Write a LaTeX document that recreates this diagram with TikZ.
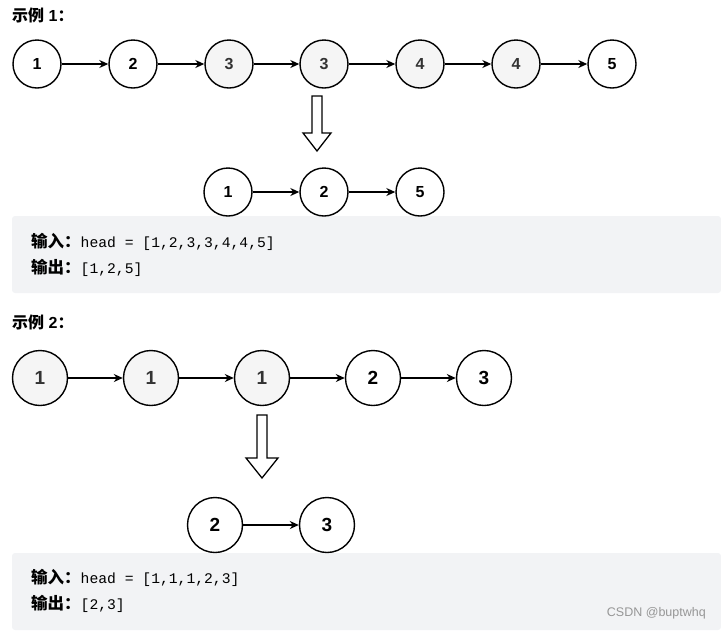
\documentclass[tikz,border=0pt]{standalone}
\usepackage{fontspec}
\setmainfont{Liberation Sans}
\setmonofont{Liberation Mono}
\newfontfamily\cjk{Noto Sans CJK SC}
\usetikzlibrary{arrows.meta}
\definecolor{boxgray}{RGB}{242,243,245}
\definecolor{nodegray}{RGB}{245,245,245}
\definecolor{textgray}{RGB}{51,51,51}
\definecolor{wmgray}{RGB}{150,150,150}
\tikzset{
  lnode/.style={circle,draw=black,line width=1.4pt,fill=white,minimum size=48pt,inner sep=0pt,
    font=\fontsize{16}{16}\selectfont\bfseries},
  lnodebig/.style={lnode,minimum size=55pt,font=\fontsize{19}{19}\selectfont\bfseries},
  dup/.style={fill=nodegray,text=textgray},
  link/.style={-{Stealth[length=9pt,width=8pt]},line width=1.3pt},
  hollow/.style={draw=black,line width=1.3pt,fill=white,line join=miter},
  codebox/.style={fill=boxgray,rounded corners=3pt},
  codeline/.style={anchor=west,inner sep=0pt,font=\fontsize{14.7}{15}\selectfont},
  header/.style={anchor=west,inner sep=0pt,font=\fontsize{16}{16}\selectfont\bfseries},
}
\newcommand{\cn}[1]{{\cjk\bfseries #1}}
\newcommand{\cnc}[1]{{\fontsize{16.5}{16.5}\selectfont\cjk\bfseries #1}}
\begin{document}
\begin{tikzpicture}[x=1pt,y=-1pt]
\useasboundingbox (0,0) rectangle (721,630);
% headers
\node[header] (h1) at (12,15) {\cn{示例} 1\cn{：}};
\node[header] (h2) at (12,322) {\cn{示例} 2\cn{：}};
% code boxes
\fill[codebox] (12,216) rectangle (721,293);
\fill[codebox] (12,553) rectangle (721,630);
\node[codeline] (t1) at (31,242) {\cnc{输入：}\texttt{head = [1,2,3,3,4,4,5]}};
\node[codeline] (t2) at (31,268) {\cnc{输出：}\texttt{[1,2,5]}};
\node[codeline] (t3) at (31,578) {\cnc{输入：}\texttt{head = [1,1,1,2,3]}};
\node[codeline] (t4) at (31,604) {\cnc{输出：}\texttt{[2,3]}};
\node[anchor=east,inner sep=0pt,text=wmgray,font=\fontsize{12.5}{12.5}\selectfont] (wm) at (706,613) {CSDN @buptwhq};
% example 1
\node[lnode] (a1) at (37,64) {1};
\node[lnode] (a2) at (133,64) {2};
\node[lnode,dup] (a3) at (229,64) {3};
\node[lnode,dup] (a4) at (324,64) {3};
\node[lnode,dup] (a5) at (420,64) {4};
\node[lnode,dup] (a6) at (516,64) {4};
\node[lnode] (a7) at (612,64) {5};
\foreach \i/\j in {a1/a2,a2/a3,a3/a4,a4/a5,a5/a6,a6/a7} \draw[link] (\i) -- (\j);
\coordinate (ar1) at (317,96);
\draw[hollow] (ar1) ++(-5,0) -- ++(0,37) -- ++(-9,0) -- (317,151) -- (331,133) -- (322,133) -- (322,96) -- cycle;
\node[lnode] (b1) at (228,192) {1};
\node[lnode] (b2) at (324,192) {2};
\node[lnode] (b3) at (420,192) {5};
\draw[link] (b1) -- (b2);
\draw[link] (b2) -- (b3);
% example 2
\node[lnodebig,dup] (c1) at (40,378) {1};
\node[lnodebig,dup] (c2) at (151,378) {1};
\node[lnodebig,dup] (c3) at (262,378) {1};
\node[lnodebig] (c4) at (373,378) {2};
\node[lnodebig] (c5) at (484,378) {3};
\foreach \i/\j in {c1/c2,c2/c3,c3/c4,c4/c5} \draw[link] (\i) -- (\j);
\coordinate (ar2) at (262,415);
\draw[hollow] (ar2) ++(-5,0) -- ++(0,43) -- ++(-11,0) -- (262,478) -- (278,458) -- (267,458) -- (267,415) -- cycle;
\node[lnodebig] (d1) at (215,525) {2};
\node[lnodebig] (d2) at (327,525) {3};
\draw[link] (d1) -- (d2);
\end{tikzpicture}
\end{document}
